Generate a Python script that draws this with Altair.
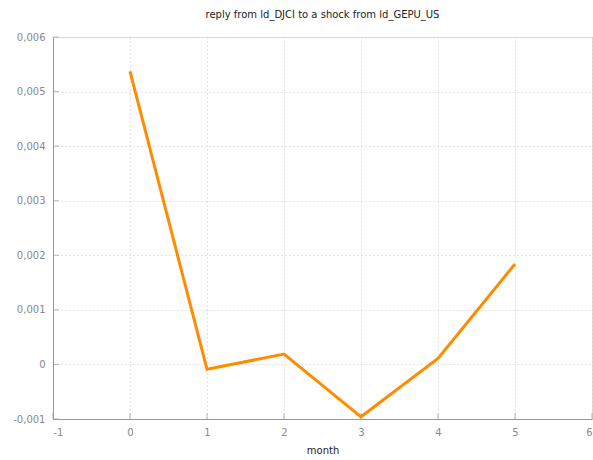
import altair as alt
import pandas as pd

# Impulse response of ld_DJCI to a shock in ld_GEPU_US
months = [0, 1, 2, 3, 4, 5]
response = [0.00537, -0.00009, 0.00019, -0.00096, 0.00011, 0.00184]

x_ticks = [-1, 0, 1, 2, 3, 4, 5, 6]
y_ticks = [-0.001, 0.0, 0.001, 0.002, 0.003, 0.004, 0.005, 0.006]

df = pd.DataFrame({"month": months, "response": response})
xt = pd.DataFrame({"v": x_ticks})
yt = pd.DataFrame({"v": y_ticks})

FONT = "DejaVu Sans"
GRAY = "#9a9a9a"

x_scale = alt.Scale(domain=[-1, 6], nice=False, zero=False)
y_scale = alt.Scale(domain=[-0.001, 0.006], nice=False, zero=False)

x_label = "replace(format(datum.value, 'd'), '\u2212', '-')"
y_label = ("datum.value == 0 ? '0' : "
           "replace(replace(format(datum.value, '.3f'), '.', ','), '\u2212', '-')")

line = alt.Chart(df).mark_line(color="#ff8c00", strokeWidth=3).encode(
    x=alt.X("month:Q", scale=x_scale, title="month",
            axis=alt.Axis(values=x_ticks, labelExpr=x_label, grid=True,
                          gridDash=[1, 3], gridColor="#c8c8c8",
                          domainColor=GRAY, tickSize=0, labelPadding=8,
                          labelColor="#8a8a8a", labelFont=FONT, labelFontSize=10,
                          titleFont=FONT, titleFontSize=10, titleFontWeight="normal",
                          titleColor="#222222", titlePadding=8)),
    y=alt.Y("response:Q", scale=y_scale, title=None,
            axis=alt.Axis(values=y_ticks, labelExpr=y_label, grid=True,
                          gridDash=[1, 3], gridColor="#c8c8c8",
                          domainColor=GRAY, tickSize=0, labelPadding=8,
                          labelColor="#8a8a8a", labelFont=FONT, labelFontSize=10)),
)

# small inward tick marks along both axes
x_marks = alt.Chart(xt).mark_tick(color=GRAY, size=6, thickness=1, yOffset=-3).encode(
    x=alt.X("v:Q", scale=x_scale), y=alt.value(382))
y_marks = alt.Chart(yt).mark_tick(color=GRAY, size=6, thickness=1, xOffset=3,
                                   orient="horizontal").encode(
    y=alt.Y("v:Q", scale=y_scale), x=alt.value(0))

chart = alt.layer(x_marks, y_marks, line).properties(
    width=539, height=382,
    title=alt.TitleParams("reply from ld_DJCI to a shock from ld_GEPU_US",
                          font=FONT, fontSize=10, fontWeight="normal",
                          color="#222222", offset=12),
    autosize=alt.AutoSizeParams(type="none"),
    padding={"left": 53, "top": 37, "right": 1, "bottom": 41},
).configure_view(stroke=None).configure(background="white")

chart.save("out.html", embed_options={"renderer": "svg", "actions": False})
